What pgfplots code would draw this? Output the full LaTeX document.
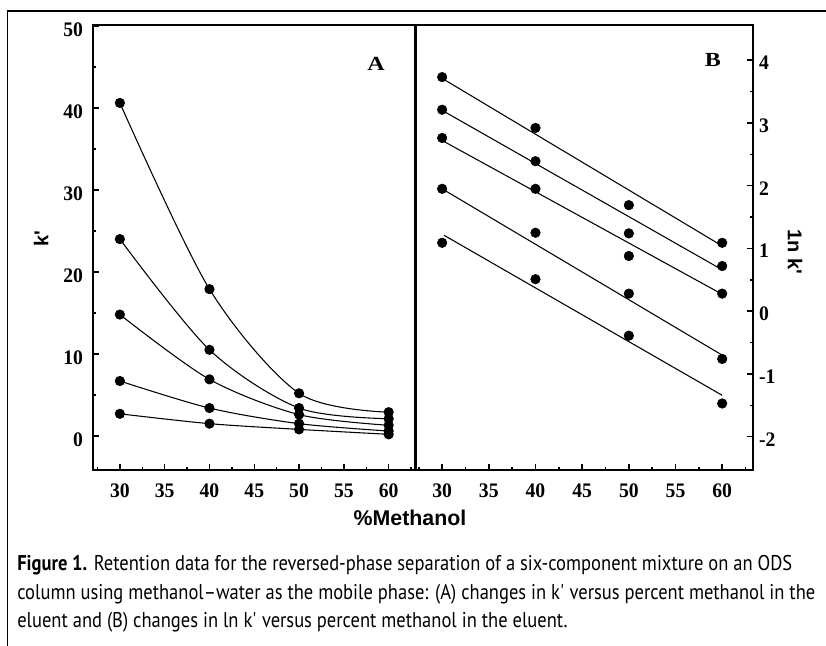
\documentclass[border=0pt]{standalone}
\usepackage{fontspec}
\usepackage{pgfplots}
\pgfplotsset{compat=1.18}
\setmainfont{Liberation Serif}
\newfontfamily\tickfont[FakeStretch=0.95]{Liberation Serif}
\newfontfamily\panelfont[FakeStretch=1.2]{Liberation Serif}
\newfontfamily\labfont{Liberation Sans}
\newfontfamily\capfont[FakeStretch=0.868]{PT Sans}

\pgfplotsset{
  panel/.style={
    scale only axis, height=333.75pt, anchor=north west,
    axis line style={line width=2.2pt},
    every tick/.style={black, line width=1.1pt},
    major tick length=4.5pt, minor tick length=2.6pt,
    tick align=inside,
    xtick={30,35,...,60}, minor xtick={27.5,32.5,...,62.5},
    xtick pos=bottom,
    tick label style={font=\tickfont\bfseries\fontsize{15.5}{15.5}\selectfont},
    /pgf/number format/assume math mode=true,
    xticklabel style={yshift=-7pt},
    label style={font=\labfont\bfseries\fontsize{15}{15}\selectfont},
  },
  curve/.style={black, line width=0.8pt, mark=*, mark size=3.4pt},
  dots/.style={black, only marks, mark=*, mark size=3.6pt},
  fit/.style={black, line width=0.8pt, no marks},
}

\begin{document}
\begin{tikzpicture}
\path[use as bounding box] (0,0) rectangle (619.5pt,-484.5pt);
\draw[line width=0.9pt] (619.5pt,-8.25pt) -- (5.6pt,-8.25pt) -- (5.6pt,-484.5pt);

% panel A: k' against % methanol
\begin{axis}[panel, at={(69.75pt,-18.75pt)}, width=241.9pt,
  xmin=27, xmax=63, ymin=-4.15, ymax=50.1,
  ytick={0,10,...,50}, minor ytick={5,15,...,45},
  ytick pos=left, yticklabel style={xshift=-4pt, yshift=-3pt},
  ylabel={k\textquotesingle},
  ylabel style={at={(rel axis cs:-0.161,0.52)}, anchor=center},
]
\addplot[curve, smooth] coordinates {(30,40.6) (40,17.9) (50,5.2) (60,2.9)};
\addplot[curve, smooth] coordinates {(30,24.0) (40,10.5) (50,3.4) (60,2.1)};
\addplot[curve, smooth] coordinates {(30,14.8) (40,6.9) (50,2.6) (60,1.3)};
\addplot[curve, smooth] coordinates {(30,6.7) (40,3.4) (50,1.5) (60,0.6)};
\addplot[curve, smooth] coordinates {(30,2.7) (40,1.5) (50,0.8) (60,0.2)};
\node[font=\panelfont\bfseries\fontsize{15}{15}\selectfont] at (axis cs:58.6,45.3) {A};
\end{axis}

% panel B: ln k' against % methanol
\begin{axis}[panel, at={(312pt,-18.75pt)}, width=252.75pt,
  xmin=27.2, xmax=63.3, ymin=-2.53, ymax=4.56,
  ytick={-2,-1,...,4}, minor ytick={-1.5,-0.5,...,3.5},
  ytick pos=right, yticklabel pos=right, yticklabel style={xshift=1pt, yshift=-2pt},
  ylabel={1n k\textquotesingle},
  ylabel style={at={(rel axis cs:1.125,0.49)}, anchor=center, rotate=180},
]
\addplot[fit] coordinates {(30,3.71) (60,1.04)};
\addplot[fit] coordinates {(30,3.20) (60,0.66)};
\addplot[fit] coordinates {(30,2.72) (60,0.27)};
\addplot[fit] coordinates {(30,1.95) (60,-0.70)};
\addplot[fit] coordinates {(30.2,1.21) (60,-1.34)};
\addplot[dots] coordinates {(30,3.73) (40,2.92) (50,1.69) (60,1.09)};
\addplot[dots] coordinates {(30,3.21) (40,2.39) (50,1.24) (60,0.72)};
\addplot[dots] coordinates {(30,2.76) (40,1.95) (50,0.88) (60,0.28)};
\addplot[dots] coordinates {(30,1.95) (40,1.25) (50,0.28) (60,-0.76)};
\addplot[dots] coordinates {(30,1.09) (40,0.51) (50,-0.39) (60,-1.47)};
\node[font=\panelfont\bfseries\fontsize{15}{15}\selectfont] at (axis cs:59.0,4.0) {B};
\end{axis}

\node[font=\labfont\bfseries\fontsize{16}{16}\selectfont] at (307.5pt,-388.5pt) {\%Methanol};

\node[anchor=north west, inner sep=0pt, align=left,
      font=\capfont\fontsize{16}{21.4}\selectfont] at (12.75pt,-416.5pt)
  {\textbf{Figure 1.} Retention data for the reversed-phase separation of a six-component mixture on an ODS\\
   column using methanol–water as the mobile phase: (A) changes in k\textquotesingle{} versus percent methanol in the\\
   eluent and (B) changes in ln k\textquotesingle{} versus percent methanol in the eluent.};
\end{tikzpicture}
\end{document}
